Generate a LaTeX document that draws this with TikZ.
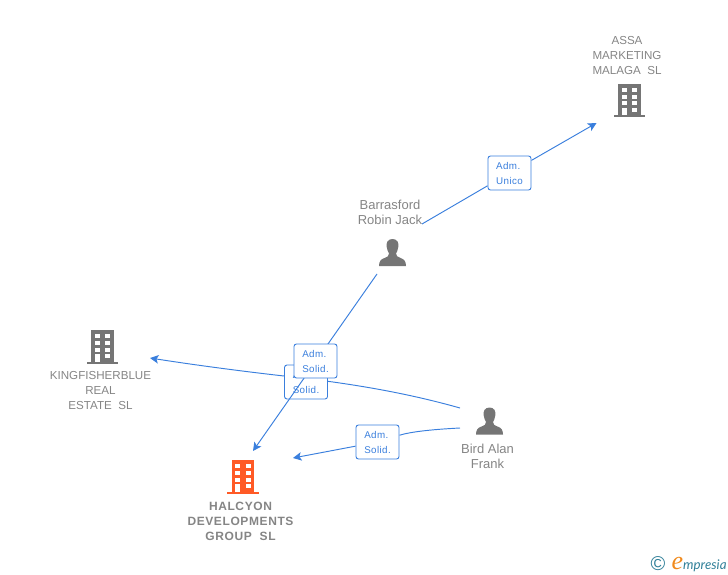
\documentclass[tikz,border=0pt]{standalone}
\usepackage{fontspec}
\setmainfont{Liberation Sans}
\newfontfamily\logofont[Ligatures=TeX]{Lato}
\newfontfamily\logoefont{Liberation Serif}
\newfontfamily\rolefont[LetterSpace=4]{Liberation Sans}
\usetikzlibrary{arrows.meta,backgrounds}
\definecolor{lnk}{HTML}{3A7FDD}
\definecolor{txtgray}{HTML}{858585}
\definecolor{icongray}{HTML}{757575}
\definecolor{hot}{HTML}{FF5A26}
\definecolor{logoteal}{HTML}{2F7F98}
\definecolor{logoorange}{HTML}{F08A1D}
\tikzset{
  x=1pt,y=-1pt,
  link/.style={draw=lnk,line width=0.95pt},
  linkarrow/.style={link,-{Stealth[length=8.5pt,width=8.5pt,inset=2pt]}},
  rolebox/.style={draw=lnk,line width=0.9pt,rounded corners=2.5pt,fill=white,
    minimum width=43pt,minimum height=34pt,inner sep=0pt,align=left,
    text=lnk,font=\rolefont\fontsize{9.8}{15}\selectfont},
  entity/.style={text=txtgray,align=center,inner sep=0pt,font=\fontsize{11.6}{15}\selectfont},
  personname/.style={text=txtgray,align=center,inner sep=0pt,font=\fontsize{13}{15}\selectfont},
  mainname/.style={text=txtgray,align=center,inner sep=0pt,font=\fontsize{12}{15}\selectfont\bfseries},
  pics/building/.style={code={
    \fill[#1] (-11.3,0) rectangle (11.3,31.5);
    \fill[#1] (-16,31.5) rectangle (15.5,33.5);
    \foreach \r in {4,11,17.5}{
      \fill[white] (-8,\r) rectangle (-3,\r+4);
      \fill[white] (2.5,\r) rectangle (7.5,\r+4);
    }
    \fill[white] (-8,24) rectangle (-3,31.5);
    \fill[white] (2.5,24) rectangle (7.5,28.3);
  }},
  pics/person/.style={code={
    \fill[icongray] (0,0) .. controls (-5,0) and (-6.5,4) .. (-5.8,8)
      .. controls (-5.3,11) and (-4.5,13) .. (-3.5,14.5)
      .. controls (-3.5,17) and (-5,18) .. (-8,19)
      .. controls (-11.5,20.2) and (-13.5,22) .. (-13.5,27)
      -- (13.5,27)
      .. controls (13.5,22) and (11.5,20.2) .. (8,19)
      .. controls (5,18) and (3.5,17) .. (3.5,14.5)
      .. controls (4.5,13) and (5.3,11) .. (5.8,8)
      .. controls (6.5,4) and (5,0) .. (0,0) -- cycle;
  }}
}
\begin{document}
\begin{tikzpicture}
\useasboundingbox (0,0) rectangle (728,575);

% icons
\pic at (629.5,84) {building=icongray};
\pic at (102.5,330) {building=icongray};
\pic at (243,460) {building=hot};
\pic at (392.5,239) {person};
\pic at (489.5,407.5) {person};

% names
\node[entity] (assa) at (627,56) {ASSA\\MARKETING\\MALAGA\ \ SL};
\node[personname] (barrasford) at (390,212.5) {Barrasford\\Robin Jack};
\node[entity] (kingfisher) at (100.5,391) {KINGFISHERBLUE\\REAL\\ESTATE\ \ SL};
\node[personname] (bird) at (487.5,456.5) {Bird Alan\\Frank};
\node[mainname] (halcyon) at (240.5,521) {\addfontfeature{LetterSpace=5}HALCYON\\\addfontfeature{LetterSpace=5}DEVELOPMENTS\\\addfontfeature{LetterSpace=5}GROUP\ \ SL};

% connector ends
\coordinate (barrasfordA) at (422,224);
\coordinate (assaEnd) at (596.5,123);
\coordinate (barrasfordB) at (377,274);
\coordinate (halcyonEndA) at (253,451);
\coordinate (birdA) at (460,408);
\coordinate (kingEnd) at (150,358);
\coordinate (birdB) at (460,428);
\coordinate (halcyonEndB) at (293,458);

% roles
\node[rolebox] (unico) at (509.5,173) {Adm.\\Unico};
\node[rolebox] (solidB) at (377.5,442) {Adm.\\Solid.};

% connectors
\begin{scope}[on background layer]
  \draw[link] (barrasfordA) -- (unico);
  \draw[linkarrow] (unico) -- (assaEnd);
  \draw[link] (birdB) .. controls (430,429.5) and (410,432) .. (solidB);
  \draw[linkarrow] (solidB) -- (halcyonEndB);
\end{scope}

\draw[linkarrow] (birdA) .. controls (400,391) and (340,382) .. (284,376) .. controls (240,371) and (195,365) .. (kingEnd);
\node[rolebox] (solidK) at (306,382) {Adm.\\Solid.};
\draw[linkarrow] (barrasfordB) -- (halcyonEndA);
\node[rolebox] (solidH) at (315.5,361) {Adm.\\Solid.};

% logo
\node[inner sep=0pt,text=logoteal,font=\fontsize{20}{20}\selectfont] (copy) at (658,564) {©};
\node[inner sep=0pt,text=logoorange,font=\logoefont\itshape\fontsize{26}{26}\selectfont] (logoe) at (677.5,563.5) {e};
\node[inner sep=0pt,anchor=base west,text=logoteal,font=\logofont\itshape\fontsize{13.3}{13.3}\selectfont] (logotext) at (683,569) {mpresia};
\end{tikzpicture}
\end{document}
